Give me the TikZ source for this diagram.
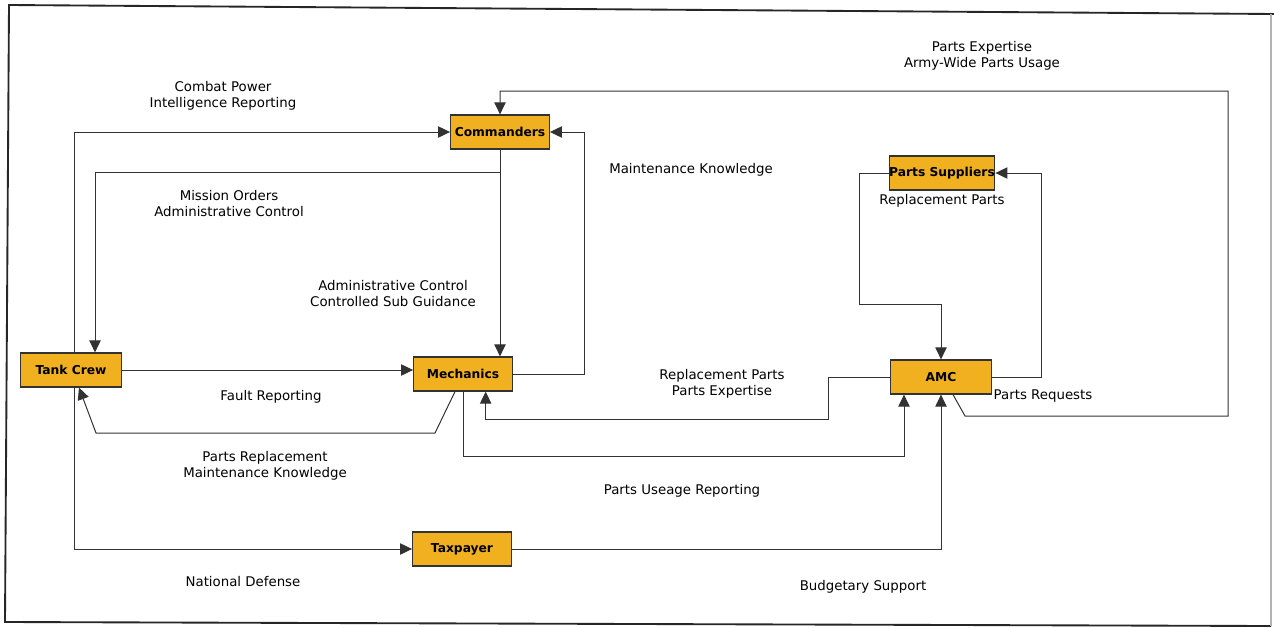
\documentclass[tikz,border=0pt]{standalone}
\usepackage{fontspec}
\setmainfont{DejaVu Sans}
\usetikzlibrary{arrows.meta,calc}
\definecolor{boxfill}{RGB}{240,176,32}
\definecolor{linegray}{RGB}{50,50,50}
\begin{document}
\begin{tikzpicture}[x=0.75pt,y=-0.75pt,
  box/.style={draw=linegray, line width=0.9pt, fill=boxfill, minimum width=74pt,
    minimum height=25.5pt, inner sep=1pt, font=\bfseries\fontsize{9.2}{11}\selectfont},
  lbl/.style={align=center, font=\fontsize{10}{12}\selectfont, inner sep=0pt},
  flow/.style={draw=linegray, line width=0.75pt, -{Triangle[length=9pt,width=8.5pt]}},
]
\useasboundingbox (0,0) rectangle (1274,628);

% outer frame
\draw[line width=1.4pt, black!85] (1274,14) -- (9,5) -- (5,622) -- (1271,626);
\draw[line width=0.8pt, black!30] (1271,14) -- (1271,626);

% actors
\node[box] (cmd)  at (500,132) {Commanders};
\node[box, minimum width=76pt, inner sep=0pt] (sup) at (942,173) {Parts Suppliers};
\node[box, minimum width=76pt] (tank) at (71,370) {Tank Crew};
\node[box] (mech) at (463,374) {Mechanics};
\node[box, minimum width=76pt] (amc)  at (941,377) {AMC};
\node[box] (tax)  at (462,549) {Taxpayer};

% bend points
\coordinate (tx) at (74,370);
\coordinate (c1) at (95,172);
\coordinate (m1) at (435,433);
\coordinate (m0) at (96,433);
\coordinate (m2) at (904,456);
\coordinate (a2) at (828,419);
\coordinate (a3) at (965,416);
\coordinate (a4) at (1228,91);
\coordinate (s2) at (859,304);

% connectors
\draw[flow] (tx |- tank.north) |- (cmd.west);
\draw[flow] (cmd.south) |- (c1) -- (c1 |- tank.north);
\draw[flow] (cmd.south) -- (cmd.south |- mech.north);
\draw[flow] (mech.east) -- ++(72,0) |- (cmd.east);
\draw[flow] (tank.east) -- (tank.east -| mech.west);
\draw[flow] ([xshift=-6pt]mech.south) -- (m1) -- (m0) -- ([xshift=6pt]tank.south);
\draw[flow] (tx |- tank.south) |- (tax.west);
\draw[flow] (tax.east) -| (amc.south);
\draw[flow] (mech.south) |- (m2) -- (m2 |- amc.south);
\draw[flow] (amc.west) -| (a2) -| ([xshift=17pt]mech.south);
\draw[flow] ([xshift=9pt]amc.south) -- (a3) -| (a4) -| (cmd.north);
\draw[flow] (amc.east) -- ++(49,0) |- (sup.east);
\draw[flow] (sup.west) -| (s2) -| (amc.north);

% flow labels
\node[lbl] (l1)  at (223,96)  {Combat Power\\Intelligence Reporting};
\node[lbl] (l2)  at (229,204) {Mission Orders\\Administrative Control};
\node[lbl] (l3)  at (393,294) {Administrative Control\\Controlled Sub Guidance};
\node[lbl] (l4)  at (691,170) {Maintenance Knowledge};
\node[lbl] (l5)  at (982,56)  {Parts Expertise\\Army-Wide Parts Usage};
\node[lbl] (l6)  at (942,201) {Replacement Parts};
\node[lbl] (l7)  at (722,384) {Replacement Parts\\Parts Expertise};
\node[lbl] (l8)  at (1043,396) {Parts Requests};
\node[lbl] (l9)  at (271,397) {Fault Reporting};
\node[lbl] (l10) at (265,466) {Parts Replacement\\Maintenance Knowledge};
\node[lbl] (l11) at (682,491) {Parts Useage Reporting};
\node[lbl] (l12) at (243,582) {National Defense};
\node[lbl] (l13) at (863,587) {Budgetary Support};
\end{tikzpicture}
\end{document}
